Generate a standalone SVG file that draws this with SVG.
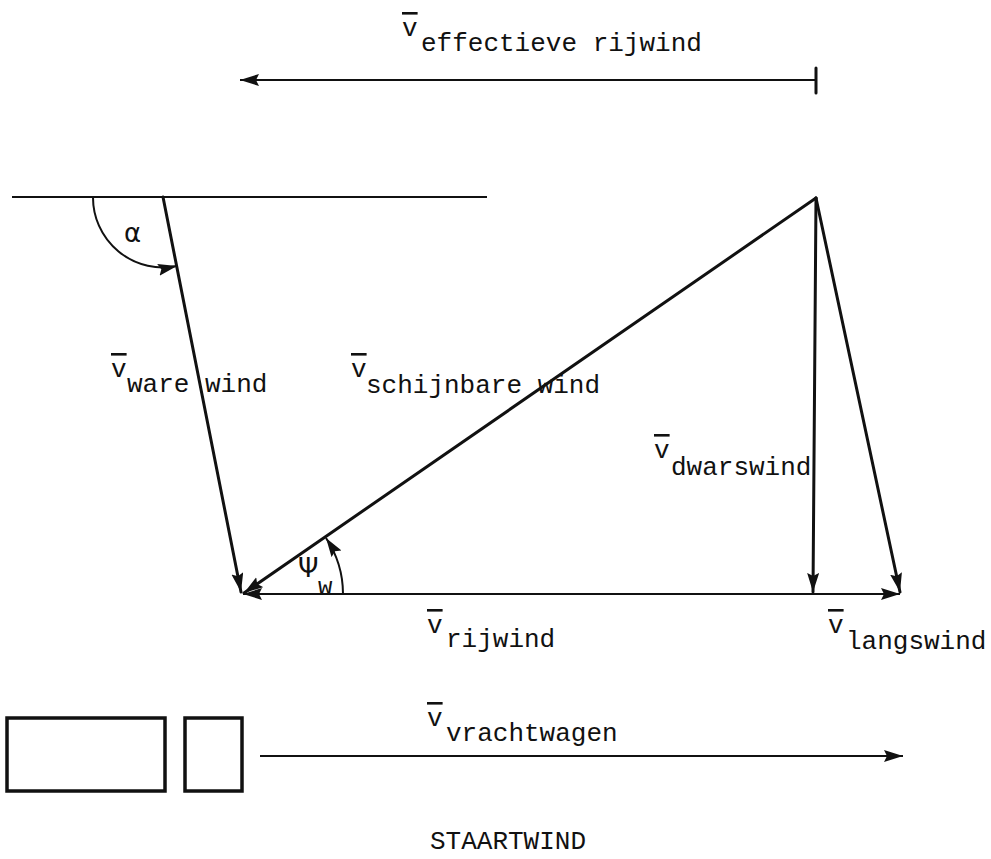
<svg xmlns="http://www.w3.org/2000/svg" width="991" height="859" viewBox="0 0 991 859">
<defs>
<style>
.t{font-family:"Liberation Mono","DejaVu Sans Mono",monospace;font-size:26px;fill:#111}
.ov{text-decoration:overline;text-decoration-thickness:2px}
.g{font-family:"DejaVu Sans","Liberation Sans",sans-serif;font-size:26px;fill:#111}
.sub{font-family:"Liberation Mono","DejaVu Sans Mono",monospace;font-size:24px}
.v{stroke:#111;stroke-width:3;fill:none;stroke-linecap:round}
.thin{stroke:#111;stroke-width:2;fill:none}
.box{stroke:#111;stroke-width:3.5;fill:none}
</style>
<marker id="ah" markerUnits="userSpaceOnUse" markerWidth="22" markerHeight="14" refX="19" refY="6" orient="auto">
<path d="M0,0 L19,6 L0,12 L3,6 z" fill="#111"/>
</marker>
</defs>
<rect width="991" height="859" fill="#fff"/>

<g id="connectors">
<line id="effectieve-rijwind" class="thin" x1="816" y1="80" x2="240" y2="80" marker-end="url(#ah)"/>
<line id="tick" class="v" x1="816" y1="68" x2="816" y2="93"/>
<line id="ref-line" class="thin" x1="12" y1="197" x2="487" y2="197"/>
<line id="ware-wind" class="v" x1="163" y1="197" x2="241" y2="592" marker-end="url(#ah)"/>
<path id="alpha-arc" class="thin" d="M93,197 A70,70 0 0 0 177,266" marker-end="url(#ah)"/>
<line id="schijnbare-wind" class="v" x1="816" y1="198" x2="244" y2="593" marker-end="url(#ah)"/>
<line id="dwarswind" class="v" x1="816" y1="198" x2="813" y2="592" marker-end="url(#ah)"/>
<line id="langswind-diag" class="v" x1="816" y1="198" x2="900" y2="592" marker-end="url(#ah)"/>
<line id="rijwind" class="thin" x1="813" y1="594" x2="243" y2="594" marker-end="url(#ah)"/>
<line id="langswind" class="thin" x1="813" y1="594" x2="900" y2="594" marker-end="url(#ah)"/>
<path id="psi-arc" class="thin" d="M343,594 A101,101 0 0 0 326,538" marker-end="url(#ah)"/>
<line id="vrachtwagen" class="thin" x1="260" y1="756" x2="903" y2="756" marker-end="url(#ah)"/>
</g>

<g id="truck">
<rect id="trailer" class="box" x="7" y="718" width="158" height="73"/>
<rect id="cab" class="box" x="185" y="718" width="57" height="73"/>
</g>

<g id="labels">
<text class="t" x="402" y="36"><tspan class="ov">v</tspan><tspan x="421" y="51">effectieve rijwind</tspan></text>
<text class="g" x="124" y="242">α</text>
<text class="t" x="111" y="377"><tspan class="ov">v</tspan><tspan x="127" y="392">ware wind</tspan></text>
<text class="t" x="351" y="377"><tspan class="ov">v</tspan><tspan x="366" y="393">schijnbare wind</tspan></text>
<text class="t" x="654" y="458"><tspan class="ov">v</tspan><tspan x="671" y="475">dwarswind</tspan></text>
<text class="g" x="298" y="577" font-size="24">Ψ<tspan class="sub" x="318" y="594">w</tspan></text>
<text class="t" x="427" y="633"><tspan class="ov">v</tspan><tspan x="446" y="647">rijwind</tspan></text>
<text class="t" x="828" y="633"><tspan class="ov">v</tspan><tspan x="846" y="649">langswind</tspan></text>
<text class="t" x="427" y="726"><tspan class="ov">v</tspan><tspan x="446" y="741">vrachtwagen</tspan></text>
<text class="t" x="430" y="849">STAARTWIND</text>
</g>
</svg>
